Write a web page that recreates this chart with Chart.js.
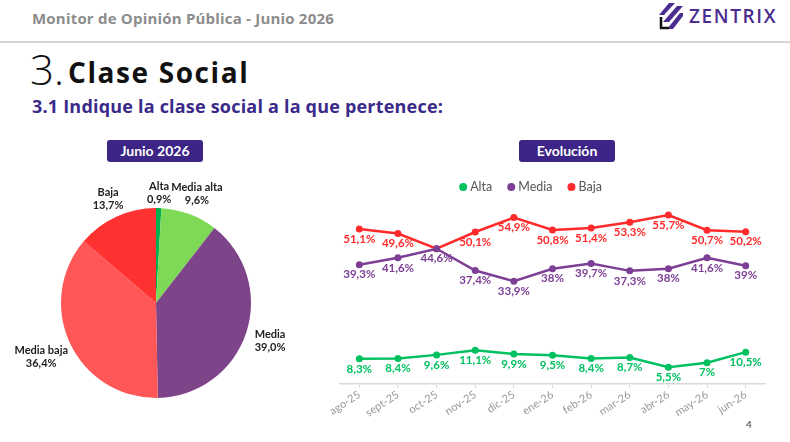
<!DOCTYPE html>
<html lang="es">
<head>
<meta charset="utf-8">
<title>Clase Social</title>
<script src="https://cdn.jsdelivr.net/npm/chart.js@4"></script>
<style>
  html, body { margin: 0; padding: 0; background: #fff; }
  body { width: 790px; height: 442px; position: relative; overflow: hidden; font-family: "Open Sans", Lato, sans-serif; }
  .top { position: absolute; left: 32px; top: 8px; font-size: 15px; font-weight: 700; color: #8c8c8c; letter-spacing: 0.2px; }
  .rule { position: absolute; left: 0; top: 41px; width: 790px; height: 2px; background: #d6d6d6; }
  .logo { position: absolute; left: 659px; top: 2px; height: 28px; display: flex; align-items: center; }
  .logo span { font-family: "Open Sans", sans-serif; font-weight: 600; font-size: 19px; color: #4a2d8f; letter-spacing: 1.6px; margin-left: 6px; }
  .num { position: absolute; left: 30px; top: 40px; font-size: 42px; font-weight: 300; color: #111; font-family: "Open Sans", sans-serif; }
  .ttl { position: absolute; left: 68px; top: 53px; font-size: 28px; font-weight: 700; color: #111; letter-spacing: 1.6px; }
  .sub { position: absolute; left: 32px; top: 94px; font-size: 18px; font-weight: 700; color: #3b2a8a; letter-spacing: 0.2px; }
  .badge { position: absolute; top: 140px; width: 96px; height: 22px; line-height: 22px; background: #3c2586; color: #fff; border-radius: 3px; text-align: center; font-family: Lato, sans-serif; font-weight: 700; font-size: 14px; }
  .page { position: absolute; left: 746px; top: 418px; font-size: 10px; color: #333; font-family: Lato, sans-serif; }
  #pieBox { position: absolute; left: 0; top: 165px; width: 312px; height: 276px; }
  #lineBox { position: absolute; left: 320px; top: 165px; width: 465px; height: 260px; }
</style>
</head>
<body>
<div class="top">Monitor de Opinión Pública - Junio 2026</div>
<div class="logo">
  <svg width="24" height="27" viewBox="0 0 24 27">
    <polygon points="10,0 16,0 5,12 0,12" fill="#4a2d8f"/>
    <polygon points="18,3 24,3 10,19 4,19" fill="#4a2d8f"/>
    <polygon points="21,10 24,10 24,13 14,26 8,26" fill="#4a2d8f"/>
    <polyline points="2,14 2,25 10,25" fill="none" stroke="#111" stroke-width="2.5"/>
  </svg>
  <span>ZENTRIX</span>
</div>
<div class="rule"></div>
<div class="num">3.</div>
<div class="ttl">Clase Social</div>
<div class="sub">3.1 Indique la clase social a la que pertenece:</div>
<div class="badge" style="left:107px">Junio 2026</div>
<div class="badge" style="left:519px">Evolución</div>
<div id="pieBox"><canvas id="pie"></canvas></div>
<div id="lineBox"><canvas id="line"></canvas></div>
<div class="page">4</div>

<script>
  // datos del mes actual
  var pieLabels = ['Alta', 'Media alta', 'Media', 'Media baja', 'Baja'];
  var pieValues = [0.9, 9.6, 39.0, 36.4, 13.7];
  var pieColors = ['#00b050', '#7ed957', '#7e4489', '#ff5757', '#ff3131'];

  // evolución mensual
  var months = ['ago-25', 'sept-25', 'oct-25', 'nov-25', 'dic-25', 'ene-26', 'feb-26', 'mar-26', 'abr-26', 'may-26', 'jun-26'];
  var alta = [8.3, 8.4, 9.6, 11.1, 9.9, 9.5, 8.4, 8.7, 5.5, 7, 10.5];
  var media = [39.3, 41.6, 44.6, 37.4, 33.9, 38, 39.7, 37.3, 38, 41.6, 39];
  var baja = [51.1, 49.6, 44.6, 50.1, 54.9, 50.8, 51.4, 53.3, 55.7, 50.7, 50.2];

  Chart.defaults.font.family = 'Lato, sans-serif';

  function fmt(v) {
    return String(v).replace('.', ',') + '%';
  }

  // etiquetas fuera del pastel
  var pieLabelPlugin = {
    id: 'pieLabels',
    afterDatasetsDraw: function (chart) {
      var ctx = chart.ctx;
      var meta = chart.getDatasetMeta(0);
      ctx.save();
      ctx.font = 'bold 11px Lato, sans-serif';
      ctx.fillStyle = '#222';
      ctx.textAlign = 'center';
      ctx.textBaseline = 'middle';
      meta.data.forEach(function (arc, i) {
        var mid = (arc.startAngle + arc.endAngle) / 2;
        var l1 = pieLabels[i];
        var l2 = pieValues[i].toFixed(1).replace('.', ',') + '%';
        var w = Math.max(ctx.measureText(l1).width, ctx.measureText(l2).width);
        var r = arc.outerRadius + 15 + 0.7 * Math.abs(Math.cos(mid)) * w / 2;
        var x = arc.x + Math.cos(mid) * r;
        var y = arc.y + Math.sin(mid) * r;
        ctx.fillText(l1, x, y - 6.5);
        ctx.fillText(l2, x, y + 6.5);
      });
      ctx.restore();
    }
  };

  new Chart(document.getElementById('pie'), {
    type: 'pie',
    data: {
      labels: pieLabels,
      datasets: [{ data: pieValues, backgroundColor: pieColors, borderWidth: 0 }]
    },
    options: {
      responsive: true,
      maintainAspectRatio: false,
      animation: false,
      layout: { padding: { top: 43, bottom: 43, left: 61, right: 61 } },
      plugins: { legend: { display: false }, tooltip: { enabled: false } }
    },
    plugins: [pieLabelPlugin]
  });

  // valores bajo cada punto; se omite si coincide con una serie ya dibujada
  var pointLabelPlugin = {
    id: 'pointLabels',
    afterDatasetsDraw: function (chart) {
      var ctx = chart.ctx;
      ctx.save();
      ctx.font = 'bold 11.5px Lato, sans-serif';
      ctx.textAlign = 'center';
      ctx.textBaseline = 'middle';
      chart.data.datasets.forEach(function (ds, d) {
        var meta = chart.getDatasetMeta(d);
        ctx.fillStyle = ds.borderColor;
        meta.data.forEach(function (pt, i) {
          for (var k = 0; k < d; k++) {
            if (chart.data.datasets[k].data[i] === ds.data[i]) return;
          }
          ctx.fillText(fmt(ds.data[i]), pt.x, pt.y + 10);
        });
      });
      ctx.restore();
    }
  };

  // leyenda propia, centrada donde está en la lámina
  var legendPlugin = {
    id: 'ownLegend',
    afterDraw: function (chart) {
      var ctx = chart.ctx;
      var cx = 211, cy = 22, gap = 14;
      ctx.save();
      ctx.font = '12.5px Lato, sans-serif';
      ctx.textBaseline = 'middle';
      var items = chart.data.datasets.map(function (ds) {
        return { text: ds.label, color: ds.borderColor, w: 12 + ctx.measureText(ds.label).width };
      });
      var total = items.reduce(function (s, it) { return s + it.w; }, 0) + gap * (items.length - 1);
      var x = cx - total / 2;
      items.forEach(function (it) {
        ctx.fillStyle = it.color;
        ctx.beginPath();
        ctx.arc(x + 4, cy, 4, 0, Math.PI * 2);
        ctx.fill();
        ctx.fillStyle = '#555';
        ctx.fillText(it.text, x + 11, cy);
        x += it.w + gap;
      });
      ctx.restore();
    }
  };

  function series(label, data, color) {
    return {
      label: label,
      data: data,
      borderColor: color,
      backgroundColor: color,
      borderWidth: 2.5,
      pointRadius: 3.5,
      pointBackgroundColor: color,
      pointBorderWidth: 0,
      tension: 0
    };
  }

  new Chart(document.getElementById('line'), {
    type: 'line',
    data: {
      labels: months,
      datasets: [
        series('Alta', alta, '#00c060'),
        series('Media', media, '#7c3f95'),
        series('Baja', baja, '#ff2b2b')
      ]
    },
    options: {
      responsive: true,
      maintainAspectRatio: false,
      animation: false,
      layout: { padding: { top: 37, bottom: 0, left: 20, right: 20 } },
      plugins: { legend: { display: false }, tooltip: { enabled: false } },
      scales: {
        x: {
          offset: true,
          grid: { drawOnChartArea: false, drawTicks: true, tickLength: 4, color: '#d9d9d9' },
          border: { color: '#d9d9d9', width: 1.5 },
          ticks: { color: '#999', font: { size: 11 }, minRotation: 33, maxRotation: 33, padding: 0 },
          afterFit: function (scale) { scale.height = 41; }
        },
        y: { display: false, min: 0, max: 60 }
      }
    },
    plugins: [pointLabelPlugin, legendPlugin]
  });
</script>
</body>
</html>
